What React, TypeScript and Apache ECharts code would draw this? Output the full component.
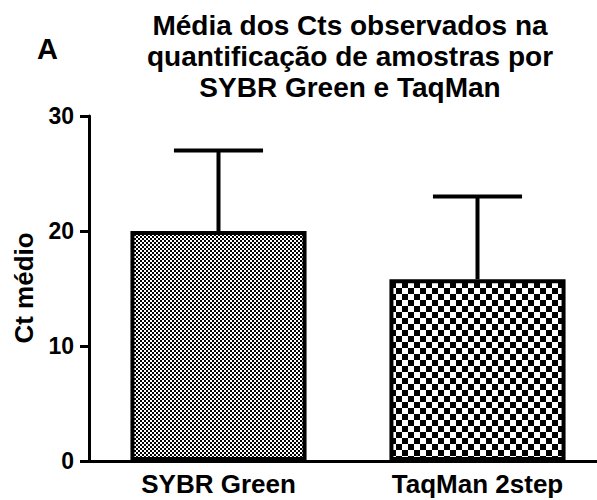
import React, { useEffect, useRef } from 'react';
import * as echarts from 'echarts';

const categories = ['SYBR Green', 'TaqMan 2step'];
const means = [20.0, 15.8];
const sds = [7.0, 7.2];
const yMin = 0;
const yMax = 30;
const yInterval = 10;
const titleLines = ['Média dos Cts observados na', 'quantificação de amostras por', 'SYBR Green e TaqMan'];
const yAxisTitle = 'Ct médio';
const panelLabel = 'A';
const patternCells = [2, 6];

const FONT = '"Liberation Sans", Arial, sans-serif';

function makeChecker(cell: number) {
  const c = document.createElement('canvas');
  c.width = cell * 2;
  c.height = cell * 2;
  const ctx = c.getContext('2d')!;
  ctx.fillStyle = '#ffffff';
  ctx.fillRect(0, 0, cell * 2, cell * 2);
  ctx.fillStyle = '#000000';
  ctx.fillRect(0, 0, cell, cell);
  ctx.fillRect(cell, cell, cell, cell);
  return c;
}

export default function App() {
  const ref = useRef<HTMLDivElement>(null);
  useEffect(() => {
    if (!ref.current) return;
    const chart = echarts.init(ref.current, undefined, { renderer: 'svg' });
    const patterns = patternCells.map((c) => makeChecker(c));
    chart.setOption({
      animation: false,
      backgroundColor: '#ffffff',
      grid: { left: 89, top: 116, bottom: 39, width: 518, outerBoundsMode: 'none', containLabel: false },
      xAxis: {
        type: 'category',
        data: categories,
        axisLine: { lineStyle: { color: '#000', width: 3 } },
        axisTick: { alignWithLabel: true, length: 10, lineStyle: { color: '#000', width: 3 } },
        axisLabel: { color: '#000', fontSize: 26, fontWeight: 'bold', fontFamily: FONT, margin: 10 },
        splitLine: { show: false },
      },
      yAxis: {
        type: 'value',
        min: yMin,
        max: yMax,
        interval: yInterval,
        axisLine: { show: true, lineStyle: { color: '#000', width: 3 } },
        axisTick: { show: true, length: 9, lineStyle: { color: '#000', width: 3 } },
        axisLabel: { color: '#000', fontSize: 23, fontWeight: 'bold', fontFamily: FONT, margin: 15 },
        splitLine: { show: false },
      },
      graphic: [
        {
          type: 'text',
          x: 350,
          y: 10,
          style: {
            text: titleLines.join('\n'),
            align: 'center',
            verticalAlign: 'top',
            fill: '#000',
            font: `bold 28px ${FONT}`,
            lineHeight: 31,
          },
        },
        {
          type: 'text',
          x: 37,
          y: 49,
          style: { text: panelLabel, align: 'left', verticalAlign: 'middle', fill: '#000', font: `bold 29px ${FONT}` },
        },
        {
          type: 'text',
          x: 24,
          y: 288,
          rotation: Math.PI / 2,
          style: { text: yAxisTitle, align: 'center', verticalAlign: 'middle', fill: '#000', font: `bold 26px ${FONT}` },
        },
      ],
      series: [
        {
          type: 'bar',
          barWidth: '68%',
          data: means.map((v, i) => ({
            value: v,
            itemStyle: { color: { image: patterns[i], repeat: 'repeat' } },
          })),
          itemStyle: { borderColor: '#000', borderWidth: 4 },
          z: 2,
        },
        {
          type: 'custom',
          data: means.map((m, i) => [i, m, sds[i]]),
          encode: { x: 0, y: 1 },
          z: 1,
          renderItem: (params: any, api: any) => {
            const i = api.value(0);
            const m = api.value(1);
            const s = api.value(2);
            const p0 = api.coord([i, m]);
            const p1 = api.coord([i, m + s]);
            const half = api.size([1, 0])[0] * 0.172;
            return {
              type: 'group',
              children: [
                { type: 'line', shape: { x1: p0[0], y1: p0[1], x2: p1[0], y2: p1[1] }, style: { stroke: '#000', lineWidth: 4 } },
                { type: 'line', shape: { x1: p1[0] - half, y1: p1[1], x2: p1[0] + half, y2: p1[1] }, style: { stroke: '#000', lineWidth: 4 } },
              ],
            };
          },
        },
      ],
    });
    return () => chart.dispose();
  }, []);
  return <div ref={ref} style={{ position: 'absolute', left: 0, top: 0, width: 597, height: 500 }} />;
}
